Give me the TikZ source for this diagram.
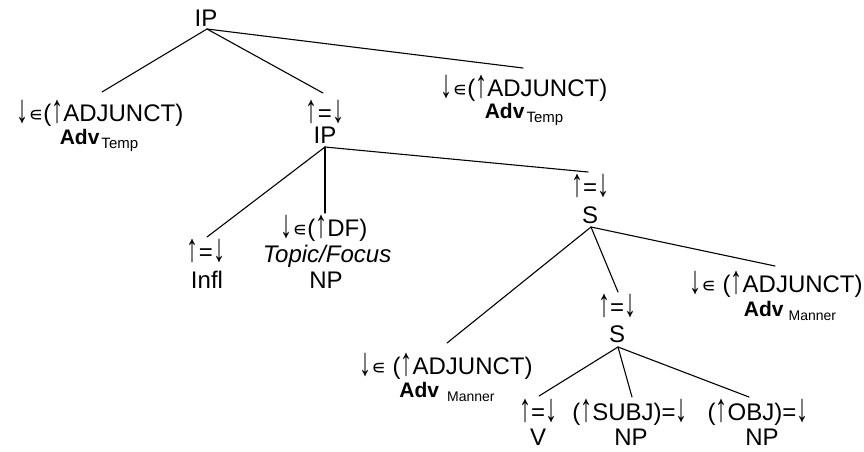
\documentclass[tikz,border=0pt]{standalone}
\usepackage{graphicx}
\usepackage{fontspec}
\setmainfont{Liberation Sans}
\newfontfamily\dvs{DejaVu Sans}
\newcommand{\elm}{{\dvs\scalebox{0.85}{∊}}}
\newcommand{\au}{\raisebox{-1.5pt}{\scalebox{1}[1.65]{↑}}}
\newcommand{\ad}{\raisebox{-1.5pt}{\scalebox{1}[1.65]{↓}}}
\newcommand{\advsub}[2]{{\fontsize{21}{21}\selectfont\bfseries Adv}\hspace{#2}\raisebox{-4pt}{\fontsize{15}{15}\selectfont #1}}
\begin{document}
\begin{tikzpicture}[x=1pt,y=-1pt,
  lbl/.style={anchor=base, inner sep=0pt, font=\fontsize{24}{24}\selectfont},
  edge/.style={line width=1.1pt, line cap=round}]
\useasboundingbox[fill=white] (0,0) rectangle (864,451);
% labels
\node[lbl] (ip0) at (206,26) {IP};
\node[lbl] (advLa) at (100,121) {\ad\elm(\au ADJUNCT)};
\node[lbl] (advLb) at (99,144) {\advsub{Temp}{2pt}};
\node[lbl] (ip1a) at (325,121) {\au=\ad};
\node[lbl] (ip1) at (325,143) {IP};
\node[lbl] (advRa) at (524,96) {\ad\elm(\au ADJUNCT)};
\node[lbl] (advRb) at (524,118) {\advsub{Temp}{2pt}};
\node[lbl] (infla) at (206,260) {\au=\ad};
\node[lbl] (infl) at (207,288) {Infl};
\node[lbl] (dfa) at (324,236) {\ad\elm(\au DF)};
\node[lbl] (dfb) at (327,262) {\itshape Topic/Focus};
\node[lbl] (dfc) at (326,288) {NP};
\node[lbl] (s1a) at (590,195) {\au=\ad};
\node[lbl] (s1) at (590,223) {S};
\node[lbl] (mRa) at (776,292) {\ad\elm\ (\au ADJUNCT)};
\node[lbl] (mRb) at (790,316) {\advsub{\fontsize{14}{14}\selectfont Manner}{5pt}};
\node[lbl] (s2a) at (617,315) {\au=\ad};
\node[lbl] (s2) at (617,342) {S};
\node[lbl] (mLa) at (446,374) {\ad\elm\ (\au ADJUNCT)};
\node[lbl] (mLb) at (447,397) {\advsub{\fontsize{14}{14}\selectfont Manner}{8pt}};
\node[lbl] (va) at (538,420) {\au=\ad};
\node[lbl] (v) at (538,445) {V};
\node[lbl] (subja) at (630,420) {(\au SUBJ)=\ad};
\node[lbl] (subj) at (631,445) {NP};
\node[lbl] (obja) at (758,420) {(\au OBJ)=\ad};
\node[lbl] (obj) at (762,445) {NP};
% attachment points
\coordinate (ip0-b) at (207,29);
\coordinate (advL-t) at (102,92);
\coordinate (ip1-t) at (323,93);
\coordinate (advR-t) at (523,68);
\coordinate (ip1-b) at (325,147);
\coordinate (infl-t) at (207,237);
\coordinate (df-t) at (325,213);
\coordinate (s1-t) at (588,172);
\coordinate (s1-b) at (591,227);
\coordinate (mR-t) at (775,266);
\coordinate (mL-t) at (447,343);
\coordinate (s2-t) at (618,292);
\coordinate (s2-b) at (618,347);
\coordinate (v-t) at (539,396);
\coordinate (subj-t) at (632,397);
\coordinate (obj-t) at (749,397);
% connectors
\draw[edge] (ip0-b) -- (advL-t);
\draw[edge] (ip0-b) -- (ip1-t);
\draw[edge] (ip0-b) -- (advR-t);
\draw[edge] (ip1-b) -- (infl-t);
\draw[edge] (ip1-b) -- (df-t);
\draw[edge] (ip1-b) -- (s1-t);
\draw[edge] (s1-b) -- (mR-t);
\draw[edge] (s1-b) -- (mL-t);
\draw[edge] (s1-b) -- (s2-t);
\draw[edge] (s2-b) -- (v-t);
\draw[edge] (s2-b) -- (subj-t);
\draw[edge] (s2-b) -- (obj-t);
\end{tikzpicture}
\end{document}
